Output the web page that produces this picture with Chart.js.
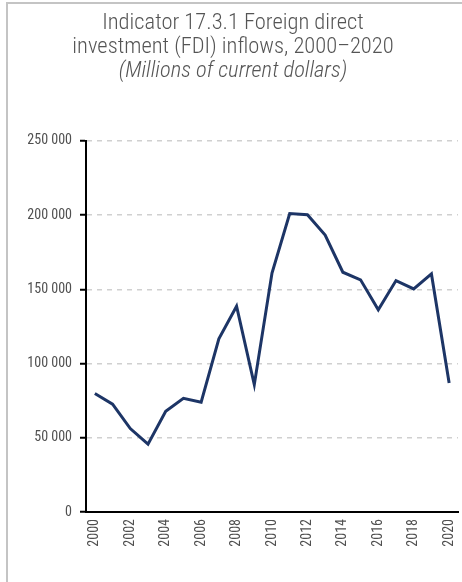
<!DOCTYPE html>
<html>
<head>
<meta charset="utf-8">
<script src="https://cdn.jsdelivr.net/npm/chart.js@4.4.0/dist/chart.umd.min.js"></script>
<style>
  html, body { margin: 0; padding: 0; background: #fff; }
  #wrap { position: relative; width: 462px; height: 582px; }
  #frame { position: absolute; left: 6px; top: 2px; right: 0; bottom: 0;
           border-left: 2px solid #c4c4c4; border-top: 2px solid #c4c4c4; pointer-events: none; }
  canvas { position: absolute; left: 0; top: 0; }
</style>
</head>
<body>
<div id="wrap">
  <canvas id="c" width="462" height="582"></canvas>
  <div id="frame"></div>
</div>
<script>
const years = ['2000','2001','2002','2003','2004','2005','2006','2007','2008','2009','2010',
               '2011','2012','2013','2014','2015','2016','2017','2018','2019','2020'];
const fdiInflows = [79800, 72600, 56200, 45700, 67900, 76600, 74000, 116700, 138600, 85800, 161000,
                    201100, 200300, 186600, 161500, 156400, 136200, 155900, 150300, 160400, 86900];
const yTicks = [0, 50000, 100000, 150000, 200000, 250000];

const condensed = "'Roboto Condensed', 'DejaVu Sans Condensed', sans-serif";
const fmt = v => String(v).replace(/\B(?=(\d{3})+(?!\d))/g, ' ');

new Chart(document.getElementById('c'), {
  type: 'line',
  data: {
    labels: years,
    datasets: [{
      data: fdiInflows,
      borderColor: '#1d3566',
      borderWidth: 3,
      pointRadius: 0,
      tension: 0,
      fill: false
    }]
  },
  options: {
    responsive: false,
    animation: false,
    devicePixelRatio: 1,
    layout: { padding: { left: 8, right: 4, top: 0, bottom: 0 } },
    plugins: {
      legend: { display: false },
      tooltip: { enabled: false },
      title: {
        display: true,
        text: ['Indicator 17.3.1 Foreign direct', 'investment (FDI) inflows, 2000\u20132020'],
        color: '#555555',
        font: { family: condensed, size: 22.5, weight: 300, lineHeight: 1.05 },
        padding: { top: 12, bottom: 0 }
      },
      subtitle: {
        display: true,
        text: '(Millions of current dollars)',
        color: '#555555',
        font: { family: condensed, size: 22.5, style: 'italic', weight: 300, lineHeight: 1.05 },
        padding: { top: 0, bottom: 58 }
      }
    },
    scales: {
      x: {
        type: 'category',
        offset: true,
        grid: { display: false, drawTicks: false },
        border: { display: true, color: '#000', width: 2 },
        ticks: {
          autoSkip: false,
          minRotation: 90,
          maxRotation: 90,
          color: '#505050',
          padding: 7,
          font: { family: condensed, size: 14 },
          callback: function(v, i) { return i % 2 === 0 ? this.getLabelForValue(v) : ''; }
        },
        afterFit: s => { s.height = 70; s.paddingLeft = 0; s.paddingRight = 0; }
      },
      y: {
        min: 0,
        max: 250000,
        afterBuildTicks: s => { s.ticks = yTicks.map(v => ({ value: v })); },
        grid: {
          color: '#d0d0d0',
          lineWidth: 1.5,
          drawOnChartArea: true,
          drawTicks: true,
          tickLength: 6,
          tickColor: '#000',
          tickWidth: 2
        },
        border: { display: true, color: '#000', width: 2, dash: [5, 5] },
        ticks: {
          color: '#505050',
          padding: 8,
          font: { family: condensed, size: 14 },
          callback: v => fmt(v)
        },
        afterFit: s => { s.width = 78; }
      }
    }
  }
});
</script>
</body>
</html>
